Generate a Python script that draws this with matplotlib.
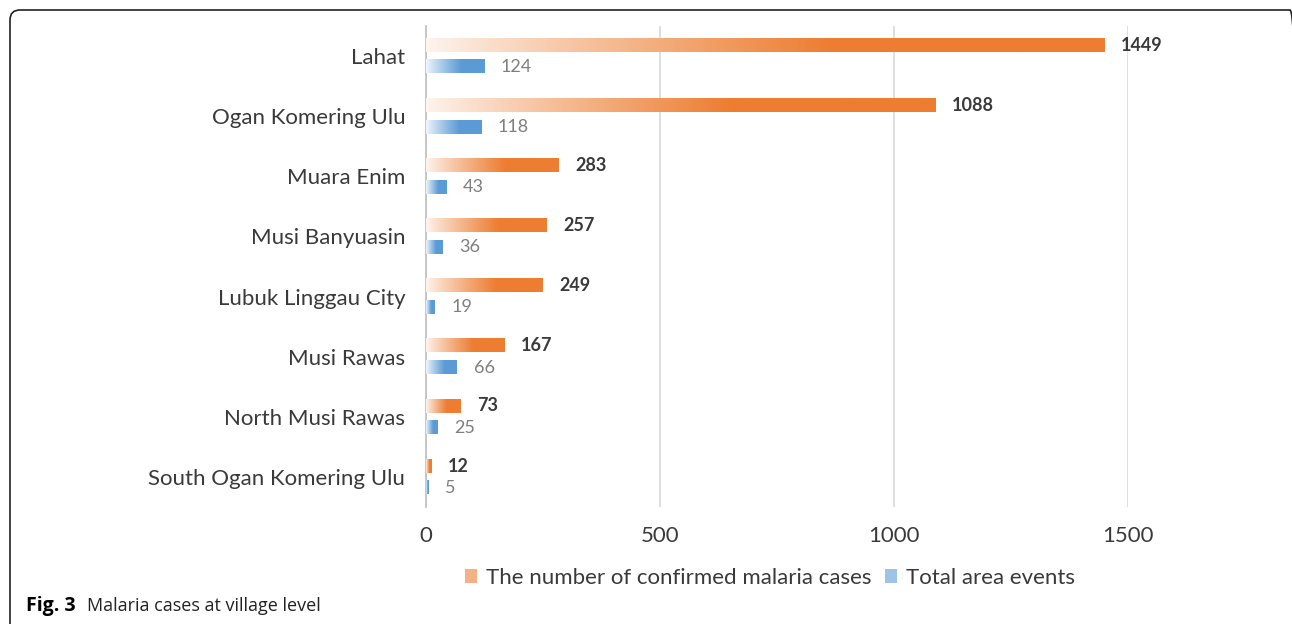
# Malaria cases at village level - horizontal bars with gradient fill
import numpy as np
import matplotlib.pyplot as plt
from matplotlib.colors import to_rgb
from matplotlib.patches import FancyBboxPatch, Patch
from matplotlib.transforms import IdentityTransform

districts = ['Lahat', 'Ogan Komering Ulu', 'Muara Enim', 'Musi Banyuasin',
             'Lubuk Linggau City', 'Musi Rawas', 'North Musi Rawas',
             'South Ogan Komering Ulu']
cases = [1449, 1088, 283, 257, 249, 167, 73, 12]
events = [124, 118, 43, 36, 19, 66, 25, 5]
x_ticks = [0, 500, 1000, 1500]

ORANGE = '#ED7D31'
BLUE = '#5B9BD5'
TEXT = '#3A3A3A'
GRID = '#D9D9D9'

plt.rcParams['font.family'] = ['Lato', 'DejaVu Sans']


def gradient_bar(ax, y, value, h, color):
    # pale at the start of the bar, full colour towards the end
    t = np.linspace(0, 1, 256)
    ramp = 0.08 + 0.92 * np.clip(t / 0.6, 0, 1) ** 0.9
    rgb = np.array(to_rgb(color))
    img = 1 - ramp[:, None] * (1 - rgb)
    ax.imshow(img[None, :, :], extent=[0, value, y + h / 2, y - h / 2],
              aspect='auto', interpolation='bilinear', zorder=3)


fig = plt.figure(figsize=(12.92, 6.24), dpi=100)
ax = fig.add_axes([426 / 1292, 1 - 507 / 624, (1128 - 426) / 1292, (507 - 26) / 624])

y = np.arange(len(districts))
off, h = 0.18, 0.22
for i in range(len(districts)):
    gradient_bar(ax, y[i] - off, cases[i], h, ORANGE)
    gradient_bar(ax, y[i] + off, events[i], h, BLUE)
    ax.annotate(str(cases[i]), (cases[i], y[i] - off), xytext=(12, 0),
                textcoords='offset points', va='center', ha='left',
                fontsize=13, fontweight='bold', color=TEXT, clip_on=False)
    ax.annotate(str(events[i]), (events[i], y[i] + off), xytext=(12, 0),
                textcoords='offset points', va='center', ha='left',
                fontsize=13, color='#7F7F7F', clip_on=False)

ax.set_xlim(0, 1500)
ax.set_ylim(len(districts) - 0.5, -0.5)
ax.set_xticks(x_ticks)
ax.set_yticks(y)
ax.set_yticklabels(districts)
ax.tick_params(axis='y', length=0, pad=15, labelsize=16, labelcolor=TEXT)
ax.tick_params(axis='x', length=0, pad=14, labelsize=16, labelcolor=TEXT)
ax.grid(axis='x', color=GRID, linewidth=1.2, zorder=0)
ax.set_axisbelow(True)
for s in ['top', 'right', 'bottom']:
    ax.spines[s].set_visible(False)
ax.spines['left'].set_color('#BFBFBF')
ax.spines['left'].set_linewidth(1.2)

handles = [Patch(facecolor='#F4B183', edgecolor='none',
                 label='The number of confirmed malaria cases'),
           Patch(facecolor='#9DC3E6', edgecolor='none', label='Total area events')]
fig.legend(handles=handles, loc='center', bbox_to_anchor=(770 / 1292, 1 - 578 / 624),
           ncol=2, frameon=False, fontsize=16, handlelength=0.55, handleheight=0.55,
           handletextpad=0.4, columnspacing=0.6, labelcolor=TEXT)

# caption
fig.text(26 / 1292, 1 - 606 / 624, 'Fig. 3', fontsize=14, fontweight='bold',
         family=['Open Sans', 'DejaVu Sans'], va='center', ha='left')
fig.text(87 / 1292, 1 - 606 / 624, 'Malaria cases at village level', fontsize=13,
         family=['Open Sans', 'DejaVu Sans'], va='center', ha='left', color='#222222')

# rounded frame (only the top and left edges fall inside the image)
frame = FancyBboxPatch((10, -30), 1290, 624 - 10 + 30,
                       boxstyle='round,pad=0,rounding_size=10',
                       transform=IdentityTransform(), facecolor='none',
                       edgecolor='#222222', linewidth=1.2)
fig.patches.append(frame)

fig.savefig('out.png', dpi=100)
